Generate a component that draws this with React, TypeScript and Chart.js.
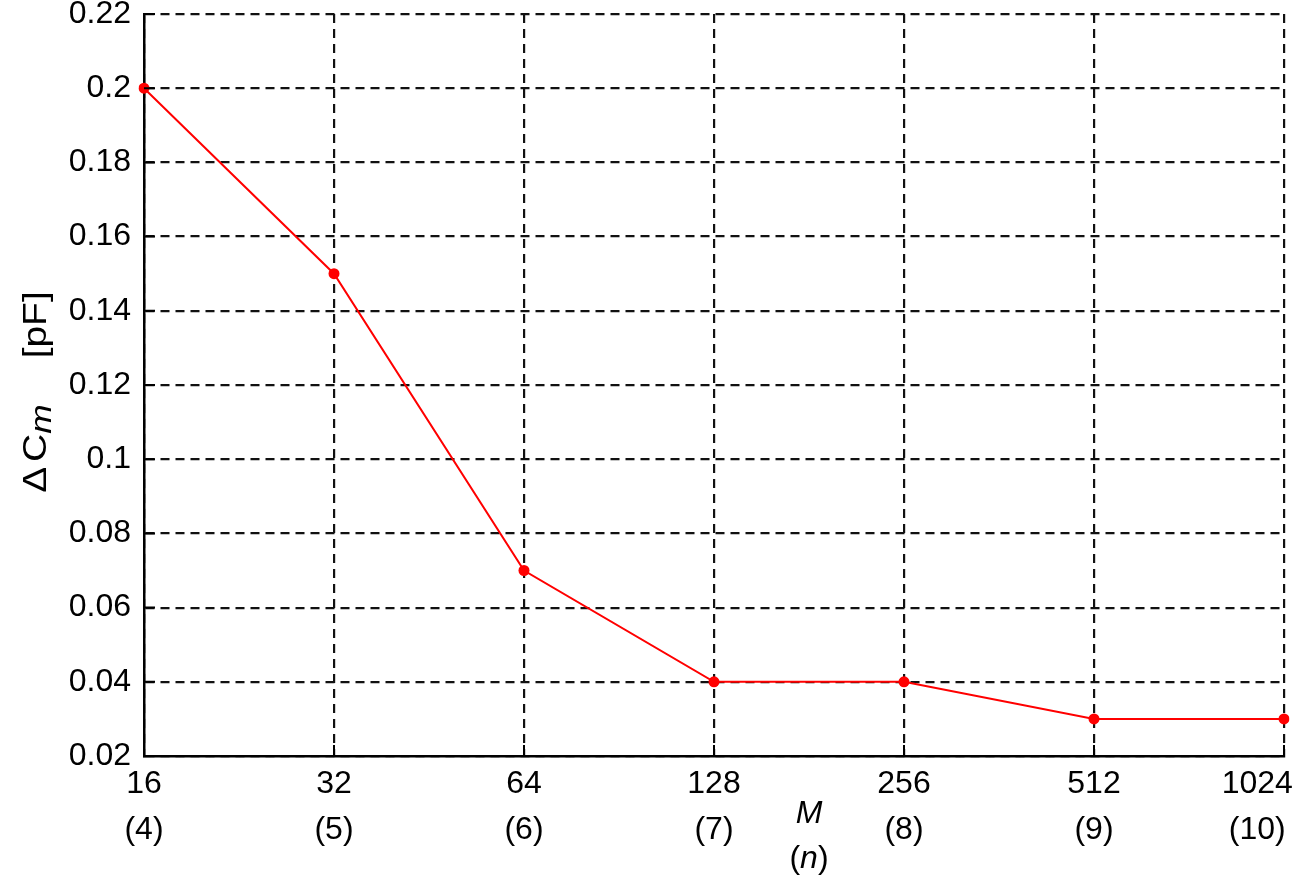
import React, { useEffect, useRef } from "react";
import { Chart, registerables } from "chart.js";

Chart.register(...registerables);

const mValues = ["16", "32", "64", "128", "256", "512", "1024\u2007\u2007\u2007"];
const nValues = ["(4)", "(5)", "(6)", "(7)", "(8)", "(9)", "(10)\u2007\u2007\u2007"];
const deltaCm = [0.2, 0.15, 0.07, 0.04, 0.04, 0.03, 0.03];
const yMin = 0.02;
const yMax = 0.22;
const yStep = 0.02;

const FONT = "'Liberation Sans', Arial, Helvetica, sans-serif";
const FS = 32;

const titlesPlugin = {
  id: "customTitles",
  afterDraw(chart: any) {
    const ctx = chart.ctx as CanvasRenderingContext2D;
    const xs = chart.scales.x;
    const ys = chart.scales.y;
    const area = chart.chartArea;
    ctx.save();
    // inner ticks
    ctx.strokeStyle = "#000";
    ctx.lineWidth = 2;
    ctx.setLineDash([]);
    ctx.beginPath();
    for (let i = 0; i < mValues.length; i++) {
      const px = xs.getPixelForValue(i);
      ctx.moveTo(px, area.bottom);
      ctx.lineTo(px, area.bottom - 11);
    }
    ys.ticks.forEach((t: any) => {
      const py = ys.getPixelForValue(t.value);
      ctx.moveTo(area.left, py);
      ctx.lineTo(area.left + 11, py);
    });
    ctx.stroke();

    ctx.fillStyle = "#000";
    ctx.textBaseline = "middle";
    // x title
    const cx = (xs.getPixelForValue(3) + xs.getPixelForValue(4)) / 2;
    ctx.textAlign = "center";
    ctx.font = `italic ${FS}px ${FONT}`;
    ctx.fillText("M", cx, 814);
    // (n)
    ctx.textAlign = "left";
    ctx.font = `${FS}px ${FONT}`;
    const wp = ctx.measureText("(").width;
    const wq = ctx.measureText(")").width;
    ctx.font = `italic ${FS}px ${FONT}`;
    const wn = ctx.measureText("n").width;
    let sx = cx - (wp + wn + wq) / 2;
    const ny = 859;
    ctx.font = `${FS}px ${FONT}`;
    ctx.fillText("(", sx, ny);
    sx += wp;
    ctx.font = `italic ${FS}px ${FONT}`;
    ctx.fillText("n", sx, ny);
    sx += wn;
    ctx.font = `${FS}px ${FONT}`;
    ctx.fillText(")", sx, ny);

    // y title
    const TF = 33;
    ctx.translate(37, 392);
    ctx.rotate(-Math.PI / 2);
    ctx.scale(1.18, 1);
    ctx.textAlign = "left";
    ctx.font = `${TF}px ${FONT}`;
    const wDelta = ctx.measureText("\u0394").width;
    const wC = ctx.measureText("C").width;
    const subFs = 30;
    ctx.font = `italic ${subFs}px ${FONT}`;
    const wm = ctx.measureText("m").width;
    const gap = 39;
    ctx.font = `${TF}px ${FONT}`;
    const wpf = ctx.measureText("[pF]").width;
    const total = wDelta + 4 + wC + wm + gap + wpf;
    let lx = -total / 2;
    ctx.fillText("\u0394", lx, 0);
    lx += wDelta + 4;
    ctx.fillText("C", lx, 0);
    lx += wC;
    ctx.font = `italic ${subFs}px ${FONT}`;
    ctx.fillText("m", lx, 6);
    lx += wm + gap;
    ctx.font = `${TF}px ${FONT}`;
    ctx.fillText("[pF]", lx, 0);
    ctx.restore();
  },
};

export default function App() {
  const ref = useRef<HTMLCanvasElement | null>(null);
  useEffect(() => {
    document.body.style.margin = "0";
    const canvas = ref.current!;
    const chart = new Chart(canvas, {
      type: "line",
      data: {
        labels: mValues.map((m, i) => [m, nValues[i]]),
        datasets: [
          {
            data: deltaCm,
            borderColor: "#ff0000",
            backgroundColor: "#ff0000",
            borderWidth: 2,
            pointRadius: 5.5,
            pointHoverRadius: 5.5,
            pointBorderWidth: 0,
            tension: 0,
            fill: false,
          },
        ],
      },
      options: {
        responsive: false,
        animation: false,
        devicePixelRatio: 1,
        layout: { padding: { left: 0, right: 32, top: 14, bottom: 0 } },
        plugins: {
          legend: { display: false },
          tooltip: { enabled: false },
          title: { display: false },
        },
        scales: {
          x: {
            type: "category",
            offset: false,
            grid: {
              color: "#111",
              lineWidth: 2.2,
              drawTicks: false,
            },
            border: { display: true, color: "#000", width: 2.5, dash: [9, 6] },
            ticks: {
              color: "#000",
              font: { family: FONT, size: FS, lineHeight: 1.45 },
              padding: 5,
              maxRotation: 0,
              autoSkip: false,
            },
            afterFit(scale: any) {
              scale.height = 135;
              scale.paddingLeft = 0;
              scale.paddingRight = 0;
            },
          },
          y: {
            min: yMin,
            max: yMax,
            grid: {
              color: "#111",
              lineWidth: 2.2,
              drawTicks: false,
            },
            border: { display: true, color: "#000", width: 2.5, dash: [9, 6] },
            ticks: {
              stepSize: yStep,
              color: "#000",
              font: { family: FONT, size: FS },
              padding: 13,
              callback: (v: any) => String(Number(Number(v).toFixed(2))),
            },
            afterFit(scale: any) {
              scale.width = 144;
              scale.paddingTop = 0;
              scale.paddingBottom = 0;
            },
          },
        },
      },
      plugins: [titlesPlugin],
    } as any);
    return () => chart.destroy();
  }, []);
  return (
    <div style={{ width: 1316, height: 891, overflow: "hidden", background: "#fff" }}>
      <canvas ref={ref} width={1316} height={891} style={{ display: "block" }} />
    </div>
  );
}
